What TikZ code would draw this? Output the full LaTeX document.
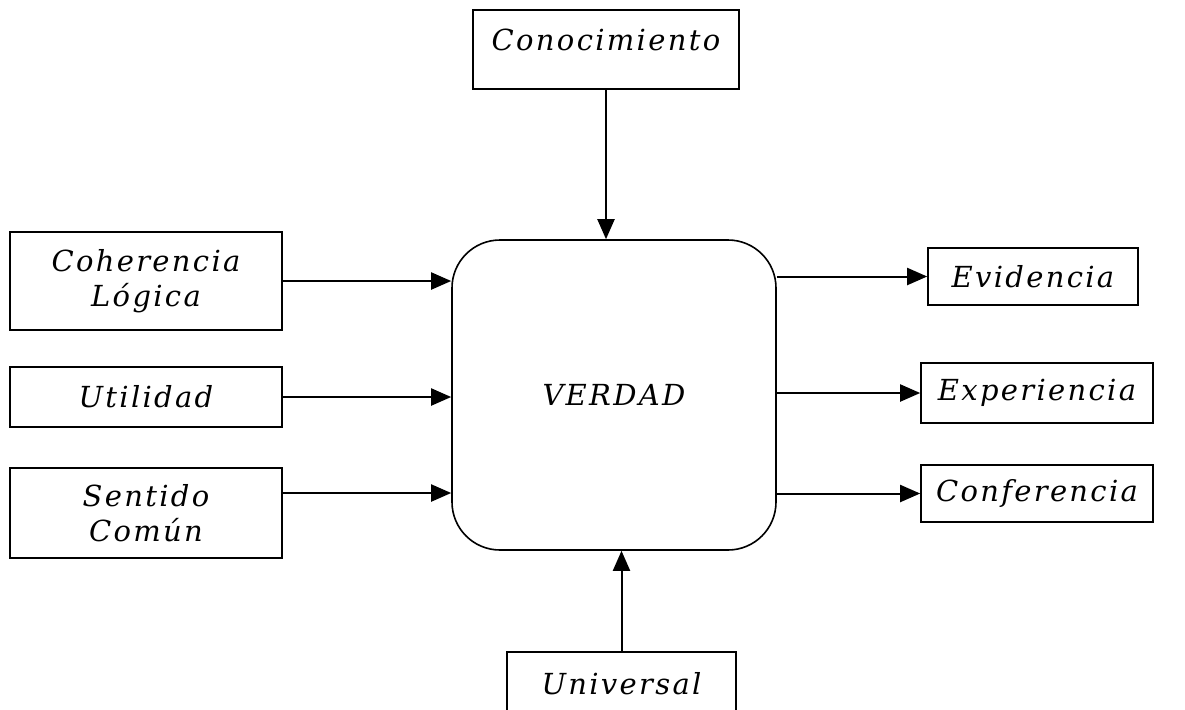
\documentclass[tikz,border=0pt]{standalone}
\usepackage{fontspec}
\setmainfont{DejaVu Serif}
\newfontfamily\cajafont[LetterSpace=8]{DejaVu Serif}
\usetikzlibrary{arrows.meta}

\tikzset{
  caja/.style={draw, line width=0.8pt, align=center, inner sep=0pt,
    font=\cajafont\itshape\fontsize{14.5}{17.5}\selectfont},
  nucleo/.style={caja, rounded corners=24pt, minimum width=162pt, minimum height=155pt}
}

\begin{document}
\begin{tikzpicture}[x=0.5pt, y=-0.5pt, >={Triangle[length=10pt,width=8.5pt]}, line width=1pt]
  \useasboundingbox (0,0) rectangle (1185,709);

  \node[nucleo] (verdad) at (614,395) {VERDAD};

  \node[caja, minimum width=133pt, minimum height=39.5pt] (conoc) at (606,49.5) {Conocimiento\\[-8pt] \mbox{}};
  \node[caja, minimum width=136pt, minimum height=49pt]   (coher) at (146,281)  {Coherencia\\ Lógica};
  \node[caja, minimum width=136pt, minimum height=30pt]   (util)  at (146,397)  {Utilidad};
  \node[caja, minimum width=136pt, minimum height=45pt]   (sent)  at (146,513)  {Sentido\\ Común};
  \node[caja, minimum width=105pt, minimum height=28.5pt] (evid)  at (1033,276.5) {Evidencia};
  \node[caja, minimum width=116pt, minimum height=30pt]   (exper) at (1037,393) {Experiencia};
  \node[caja, minimum width=116pt, minimum height=28.5pt] (confe) at (1037,493.5) {Conferencia};
  \node[caja, minimum width=114.5pt, minimum height=32pt] (univ)  at (621.5,684) {Universal};

  % la flecha de Sentido Comun no sale del centro
  \coordinate (sc) at ([yshift=10pt]sent.east);

  \draw
     (conoc) edge[->] (conoc |- verdad.north)
     (univ)  edge[->] (univ |- verdad.south)
     (coher) edge[->] (coher -| verdad.west)
     (util)  edge[->] (util -| verdad.west)
     (sc)    edge[->] (sc -| verdad.west)
     (verdad.east |- evid)  edge[->] (evid)
     (verdad.east |- exper) edge[->] (exper)
     (verdad.east |- confe) edge[->] (confe);
\end{tikzpicture}
\end{document}
